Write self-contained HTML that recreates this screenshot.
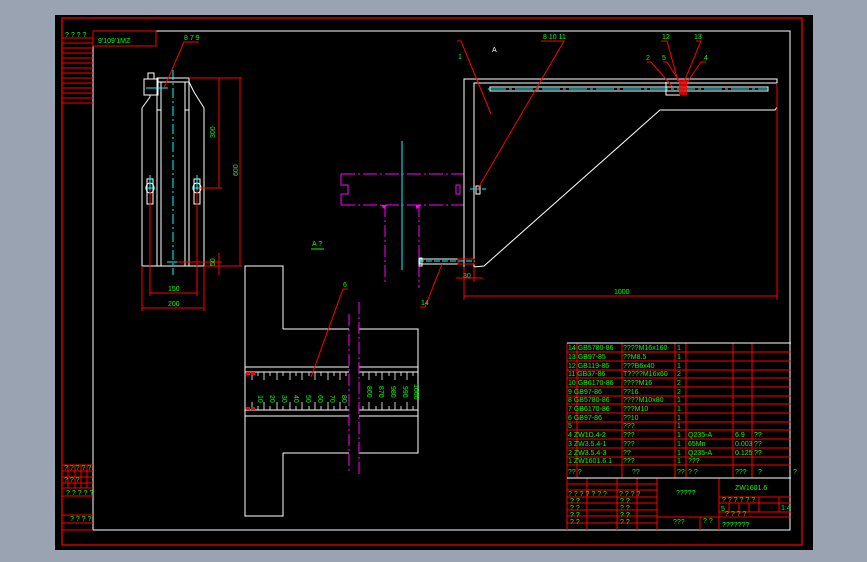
<!DOCTYPE html>
<html><head><style>
html,body{margin:0;padding:0;background:#9aa3b1;}
svg{display:block}
text{font-family:"Liberation Sans",sans-serif;fill:#00ff00;font-size:7px}
</style></head><body>
<svg width="867" height="562" viewBox="0 0 867 562">
<rect x="0" y="0" width="867" height="562" fill="#9aa3b1"/>
<rect x="55" y="15" width="758" height="535" fill="#000"/>
<!-- frames -->
<rect x="62" y="18" width="740" height="527" fill="none" stroke="#f00" stroke-width="1.2"/>
<polyline points="93,31 790,31 790,530 93,530 93,31" fill="none" stroke="#fff" stroke-width="1"/>
<!-- top-left box -->
<g stroke="#f00" stroke-width="1" fill="none">
<rect x="93" y="31" width="63" height="15"/>
<line x1="62" y1="38" x2="93" y2="38"/>
<line x1="62" y1="43" x2="93" y2="43"/><line x1="62" y1="48" x2="93" y2="48"/><line x1="62" y1="53" x2="93" y2="53"/><line x1="62" y1="58" x2="93" y2="58"/><line x1="62" y1="63" x2="93" y2="63"/><line x1="62" y1="68" x2="93" y2="68"/><line x1="62" y1="73" x2="93" y2="73"/><line x1="62" y1="78" x2="93" y2="78"/><line x1="62" y1="83" x2="93" y2="83"/><line x1="62" y1="88" x2="93" y2="88"/><line x1="62" y1="93" x2="93" y2="93"/><line x1="62" y1="98" x2="93" y2="98"/><line x1="62" y1="103" x2="93" y2="103"/>
<!-- bottom-left -->
<line x1="62" y1="465" x2="93" y2="465"/><line x1="62" y1="471" x2="93" y2="471"/><line x1="62" y1="477" x2="93" y2="477"/><line x1="62" y1="483" x2="93" y2="483"/><line x1="62" y1="488" x2="93" y2="488"/><line x1="62" y1="496" x2="93" y2="496"/><line x1="62" y1="515" x2="93" y2="515"/><line x1="62" y1="523" x2="93" y2="523"/><line x1="62" y1="530" x2="93" y2="530"/>
<line x1="68" y1="465" x2="68" y2="488"/><line x1="75" y1="465" x2="75" y2="488"/><line x1="81" y1="465" x2="81" y2="488"/><line x1="87" y1="465" x2="87" y2="488"/>
</g>
<text x="65" y="37">? ? ? ?</text>
<text x="98" y="43" font-size="9">9'109'1MZ</text>
<text x="64" y="470" font-size="6">? ? ? ? ?</text><text x="64" y="482" font-size="6">? ? ?</text>
<text x="66" y="495" font-size="6">? ? ? ? ?</text><text x="70" y="521" font-size="6">? ? ? ?</text>

<!-- LEFT VIEW -->
<g stroke="#fff" stroke-width="1" fill="none">
<polyline points="142,266 142,108 150,97 150,95"/>
<polyline points="204,266 204,108 194,92 189,82"/>
<rect x="157" y="78" width="32" height="4"/>
<line x1="157" y1="82" x2="157" y2="266"/><line x1="161" y1="82" x2="161" y2="266"/>
<line x1="185" y1="82" x2="185" y2="266"/><line x1="189" y1="82" x2="189" y2="266"/>
<line x1="157" y1="110" x2="161" y2="110"/><line x1="185" y1="110" x2="189" y2="110"/>
<rect x="144" y="79" width="14" height="16"/><rect x="148" y="73" width="6" height="6"/>
<line x1="142" y1="266" x2="204" y2="266"/>
<ellipse cx="150" cy="188" rx="4" ry="5"/><ellipse cx="197" cy="188" rx="4" ry="5"/>
<rect x="147" y="179" width="6" height="25"/><rect x="194" y="179" width="6" height="25"/>
</g>
<g stroke="#0ff" stroke-width="1" fill="none">
<line x1="173" y1="70" x2="173" y2="275" stroke-dasharray="10,3,2,3"/>
<line x1="150" y1="175" x2="150" y2="207"/><line x1="197" y1="175" x2="197" y2="207"/>
<line x1="145" y1="188" x2="155" y2="188"/><line x1="192" y1="188" x2="202" y2="188"/>
<line x1="146" y1="88" x2="168" y2="88"/><line x1="167" y1="262" x2="180" y2="262"/>
</g>
<g stroke="#f00" stroke-width="1" fill="none">
<line x1="189" y1="78" x2="242" y2="78"/>
<line x1="219" y1="78" x2="219" y2="188"/><line x1="240" y1="78" x2="240" y2="266"/>
<line x1="200" y1="188" x2="222" y2="188"/><line x1="177" y1="262" x2="222" y2="262"/>
<line x1="204" y1="266" x2="242" y2="266"/><line x1="219" y1="253" x2="219" y2="275"/>
<line x1="150" y1="190" x2="150" y2="296"/><line x1="197" y1="190" x2="197" y2="296"/>
<line x1="150" y1="293" x2="197" y2="293"/>
<line x1="142" y1="266" x2="142" y2="311"/><line x1="204" y1="266" x2="204" y2="311"/>
<line x1="142" y1="308" x2="204" y2="308"/>
<polyline points="164,88 184,42 199,42"/>
</g>
<text x="184" y="40">8 7 9</text>
<text x="215" y="138" transform="rotate(-90 215 138)">300</text>
<text x="238" y="176" transform="rotate(-90 238 176)">600</text>
<text x="215" y="266" transform="rotate(-90 215 266)">50</text>
<text x="168" y="291">150</text><text x="168" y="306">200</text>
<text x="312" y="246">A  ?</text><line x1="311" y1="249" x2="324" y2="249" stroke="#0f0"/>

<!-- RULER VIEW -->
<g stroke="#fff" stroke-width="1" fill="none">
<polyline points="283,329 283,266 245,266 245,516 283,516 283,453"/>
<polyline points="349,329 283,329"/><polyline points="349,453 283,453"/>
<polyline points="359,329 418,329 418,453 359,453"/>
<line x1="245" y1="367" x2="349" y2="367"/><line x1="359" y1="367" x2="418" y2="367"/>
<line x1="245" y1="372" x2="349" y2="372"/><line x1="359" y1="372" x2="418" y2="372"/>
<line x1="245" y1="410" x2="349" y2="410"/><line x1="359" y1="410" x2="418" y2="410"/>
<line x1="245" y1="416" x2="349" y2="416"/><line x1="359" y1="416" x2="418" y2="416"/>
</g>
<g stroke="#fff" stroke-width="0.8">
<path d="M252 372v8M258 372v4M264 372v8M270 372v4M277 372v8M283 372v4M290 372v8M296 372v4M302 372v8M309 372v4M315 372v8M321 372v4M328 372v8M334 372v4M340 372v8M346 372v4M363 372v4M369 372v8M376 372v4M382 372v8M389 372v4M395 372v8M401 372v4M407 372v8M413 372v4"/>
<path d="M252 410v-8M258 410v-4M264 410v-8M270 410v-4M277 410v-8M283 410v-4M290 410v-8M296 410v-4M302 410v-8M309 410v-4M315 410v-8M321 410v-4M328 410v-8M334 410v-4M340 410v-8M346 410v-4M363 410v-4M369 410v-8M376 410v-4M382 410v-8M389 410v-4M395 410v-8M401 410v-4M407 410v-8M413 410v-4"/>
</g>
<g font-size="7">
<text x="258" y="395" transform="rotate(90 258 395)">10</text>
<text x="270" y="395" transform="rotate(90 270 395)">20</text>
<text x="282" y="395" transform="rotate(90 282 395)">30</text>
<text x="294" y="395" transform="rotate(90 294 395)">40</text>
<text x="306" y="395" transform="rotate(90 306 395)">50</text>
<text x="318" y="395" transform="rotate(90 318 395)">60</text>
<text x="330" y="395" transform="rotate(90 330 395)">70</text>
<text x="342" y="395" transform="rotate(90 342 395)">80</text>
<text x="367" y="386" transform="rotate(90 367 386)">860</text>
<text x="379" y="386" transform="rotate(90 379 386)">870</text>
<text x="391" y="386" transform="rotate(90 391 386)">980</text>
<text x="403" y="386" transform="rotate(90 403 386)">990</text>
<text x="414" y="384" transform="rotate(90 414 384)">1000</text>
</g>
<rect x="246" y="372" width="4" height="3" fill="#f00"/><rect x="251" y="372" width="4" height="3" fill="#f00"/>
<rect x="246" y="407" width="4" height="3" fill="#f00"/><rect x="251" y="407" width="4" height="3" fill="#f00"/>
<g stroke="#f0f" stroke-width="1" stroke-dasharray="12,3,2,3">
<line x1="349" y1="314" x2="349" y2="473"/><line x1="359" y1="302" x2="359" y2="477"/>
</g>
<polyline points="311,377 343,289 348,289" stroke="#f00" fill="none"/>
<text x="343" y="287">6</text>

<!-- RIGHT VIEW -->
<g stroke="#f0f" stroke-width="1" fill="none">
<line x1="341" y1="174" x2="464" y2="174" stroke-dasharray="14,3,2,3"/>
<line x1="341" y1="205" x2="464" y2="205" stroke-dasharray="14,3,2,3"/>
<polyline points="341,174 341,185 348,185 348,194 341,194 341,205"/>
<line x1="385" y1="205" x2="385" y2="282" stroke-dasharray="12,3,2,3"/>
<line x1="419" y1="205" x2="419" y2="288" stroke-dasharray="12,3,2,3"/>
<rect x="456" y="185" width="4" height="9"/>
</g>
<path d="M381 205l6 0l-3 4z M416 205l6 0l-6 4z" fill="#f0f"/>
<line x1="402" y1="141" x2="402" y2="270" stroke="#0ff"/>
<g stroke="#fff" stroke-width="1" fill="none">
<polyline points="464,267 464,79 777,79 777,83 474,83 474,267 484,266 660,110 775,110 777,107"/>
<line x1="474" y1="83" x2="777" y2="83"/>
<rect x="490" y="87" width="278" height="4"/>
<polyline points="666,82 666,95 680,95"/>
<rect x="420" y="259" width="44" height="5"/><rect x="419" y="258" width="3" height="8"/>
<rect x="476" y="186" width="4" height="8"/>
</g>
<line x1="488" y1="89" x2="768" y2="89" stroke="#0ff" stroke-dasharray="18,3,3,3"/>
<line x1="470" y1="189" x2="486" y2="189" stroke="#0ff" stroke-dasharray="4,2"/>
<line x1="418" y1="261" x2="475" y2="261" stroke="#0ff" stroke-dasharray="6,2"/>
<rect x="679" y="80" width="8" height="15" fill="#f00" opacity="0.8"/>
<g stroke="#f00" stroke-width="1" fill="none">
<line x1="464" y1="267" x2="464" y2="300"/><line x1="777" y1="83" x2="777" y2="300"/>
<line x1="464" y1="296" x2="777" y2="296"/>
<line x1="456" y1="278" x2="483" y2="278"/><line x1="474" y1="267" x2="474" y2="282"/>
<rect x="458" y="259" width="16" height="5"/>
<polyline points="457,41 461,41 491,114"/>
<polyline points="541,41 564,41 477,190"/>
<polyline points="420,307 425,307 442,264"/>
<polyline points="647,62 651,62 672,86"/><polyline points="663,62 667,62 681,84"/>
<polyline points="661,41 667,41 678,81"/><polyline points="696,41 701,41 684,82"/>
<polyline points="706,62 701,62 686,84"/>
</g>
<text x="458" y="59">1</text><text x="543" y="39">8 10 11</text>
<text x="421" y="305">14</text><text x="463" y="278" font-size="6">30</text>
<text x="614" y="294">1000</text>
<text x="646" y="60">2</text><text x="662" y="60">5</text><text x="662" y="39">12</text><text x="694" y="39">13</text><text x="704" y="60">4</text>
<text x="492" y="52" fill="#fff" style="fill:#fff" font-size="6">A</text>

<!-- TITLE TABLE -->
<g stroke="#f00" stroke-width="1" fill="none">
<line x1="567" y1="352" x2="791" y2="352"/><line x1="567" y1="361" x2="791" y2="361"/><line x1="567" y1="370" x2="791" y2="370"/><line x1="567" y1="378" x2="791" y2="378"/><line x1="567" y1="387" x2="791" y2="387"/><line x1="567" y1="396" x2="791" y2="396"/><line x1="567" y1="404" x2="791" y2="404"/><line x1="567" y1="413" x2="791" y2="413"/><line x1="567" y1="422" x2="791" y2="422"/><line x1="567" y1="430" x2="791" y2="430"/><line x1="567" y1="439" x2="791" y2="439"/><line x1="567" y1="448" x2="791" y2="448"/><line x1="567" y1="457" x2="791" y2="457"/><line x1="567" y1="465" x2="791" y2="465"/>
<line x1="567" y1="343" x2="567" y2="530"/><line x1="577" y1="343" x2="577" y2="478"/><line x1="622" y1="343" x2="622" y2="478"/><line x1="675" y1="343" x2="675" y2="478"/><line x1="686" y1="343" x2="686" y2="478"/><line x1="733" y1="343" x2="733" y2="478"/><line x1="752" y1="343" x2="752" y2="478"/>
<line x1="567" y1="484" x2="657" y2="484"/><line x1="567" y1="490" x2="657" y2="490"/><line x1="567" y1="497" x2="657" y2="497"/><line x1="567" y1="503" x2="657" y2="503"/><line x1="567" y1="510" x2="657" y2="510"/><line x1="567" y1="516" x2="657" y2="516"/><line x1="567" y1="523" x2="657" y2="523"/>
<line x1="587" y1="478" x2="587" y2="530"/><line x1="617" y1="478" x2="617" y2="530"/><line x1="637" y1="478" x2="637" y2="530"/><line x1="657" y1="478" x2="657" y2="530"/>
<line x1="657" y1="517" x2="791" y2="517"/><line x1="700" y1="517" x2="700" y2="530"/>
<line x1="719" y1="478" x2="719" y2="530"/><line x1="719" y1="497" x2="791" y2="497"/><line x1="719" y1="503" x2="791" y2="503"/><line x1="719" y1="512" x2="791" y2="512"/>
<line x1="729" y1="503" x2="729" y2="512"/><line x1="739" y1="503" x2="739" y2="512"/><line x1="749" y1="503" x2="749" y2="512"/><line x1="759" y1="497" x2="759" y2="512"/><line x1="779" y1="497" x2="779" y2="512"/>
</g>
<g stroke="#fff" stroke-width="1"><line x1="567" y1="343" x2="791" y2="343"/><line x1="567" y1="478" x2="791" y2="478"/></g>
<g font-size="6">
<text x="568" y="350">14 GB5780-86</text><text x="623" y="350">????M16x160</text><text x="677" y="350">1</text>
<text x="568" y="359">13 GB97-85</text><text x="623" y="359">??M8.5</text><text x="677" y="359">1</text>
<text x="568" y="368">12 GB119-86</text><text x="623" y="368">???B6x40</text><text x="677" y="368">1</text>
<text x="568" y="376">11 GB37-86</text><text x="623" y="376">T????M16x60</text><text x="677" y="376">2</text>
<text x="568" y="385">10 GB6170-86</text><text x="623" y="385">????M16</text><text x="677" y="385">2</text>
<text x="568" y="394">9  GB97-86</text><text x="623" y="394">??16</text><text x="677" y="394">2</text>
<text x="568" y="402">8  GB5780-86</text><text x="623" y="402">????M10x80</text><text x="677" y="402">1</text>
<text x="568" y="411">7  GB6170-86</text><text x="623" y="411">???M10</text><text x="677" y="411">1</text>
<text x="568" y="420">6  GB97-86</text><text x="623" y="420">??10</text><text x="677" y="420">1</text>
<text x="568" y="428">5</text><text x="623" y="428">???</text><text x="677" y="428">1</text>
<text x="568" y="437">4  ZW1D.4-2</text><text x="623" y="437">???</text><text x="677" y="437">1</text><text x="688" y="437">Q235-A</text><text x="735" y="437">6.9</text><text x="754" y="437">??</text>
<text x="568" y="446">3  ZW3.5.4-1</text><text x="623" y="446">???</text><text x="677" y="446">1</text><text x="688" y="446">65Mn</text><text x="735" y="446">0.003</text><text x="754" y="446">??</text>
<text x="568" y="455">2  ZW3.5.4-3</text><text x="623" y="455">??</text><text x="677" y="455">1</text><text x="688" y="455">Q235-A</text><text x="735" y="455">0.125</text><text x="754" y="455">??</text>
<text x="568" y="463">1  ZW1601.6.1</text><text x="623" y="463">???</text><text x="677" y="463">1</text><text x="688" y="463">???</text>
<text x="568" y="474">??  ?</text><text x="632" y="474">??</text><text x="677" y="474">??</text><text x="688" y="474">? ?</text><text x="735" y="474">???</text><text x="758" y="474">?</text><text x="793" y="474">?</text>
<text x="568" y="496">? ? ? ?  ?   ?   ?</text><text x="619" y="496">? ? ? ?</text>
<text x="570" y="503">?  ?</text><text x="620" y="503">?  ?</text>
<text x="570" y="510">?  ?</text><text x="620" y="510">?  ?</text>
<text x="570" y="517">?  ?</text><text x="620" y="517">?  ?</text>
<text x="570" y="524">?  ?</text><text x="620" y="524">?  ?</text>
<text x="673" y="524">???</text><text x="703" y="523">? ?</text>
<text x="722" y="502">?  ?  ?  ?  ?  ?</text><text x="721" y="511" font-size="8">5</text><text x="781" y="510">1:4</text>
<text x="725" y="516">?         ?     ?     ?</text>
</g>
<text x="676" y="495" font-size="8">?????</text>
<text x="735" y="490" font-size="9">ZW1601.6</text>
<text x="722" y="527" font-size="10">???????</text>
</svg>
</body></html>
